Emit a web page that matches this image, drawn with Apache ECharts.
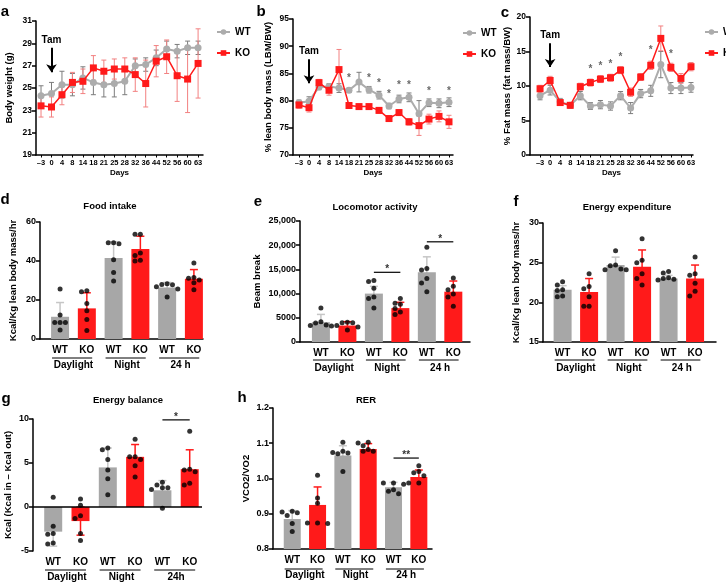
<!DOCTYPE html>
<html>
<head>
<meta charset="utf-8">
<title>Body composition and metabolic cage data</title>
<script src="https://cdn.jsdelivr.net/npm/echarts@6/dist/echarts.min.js"></script>
<style>
    html, body { margin: 0; padding: 0; background: #fff; }
    .panel { position: absolute; left: 0; top: 0; width: 726px; height: 583px; }
</style>
</head>
<body>
<div id="pa" class="panel"></div>
<div id="pb" class="panel"></div>
<div id="pc" class="panel"></div>
<div id="pd" class="panel"></div>
<div id="pe" class="panel"></div>
<div id="pf" class="panel"></div>
<div id="pg" class="panel"></div>
<div id="ph" class="panel"></div>
<script>
(function () {
    'use strict';

    // ---- data: time course (a, b, c) ----
    var days = ['–3', '0', '4', '8', '14', '18', '21', '25', '28', '32', '36', '44', '52', '56', '60', '63'];
    var tamDay = '0';

    var weightWT = [24.3, 24.5, 25.3, 25.3, 25.9, 25.5, 25.3, 25.4, 25.6, 27.0, 27.1, 27.7, 28.5, 28.3, 28.6, 28.6];
    var weightWTsd = [0.9, 1.0, 1.2, 1.0, 1.0, 1.1, 1.1, 1.2, 1.2, 0.6, 0.6, 0.7, 0.7, 0.6, 0.6, 0.6];
    var weightKO = [23.4, 23.3, 24.4, 25.5, 25.6, 26.8, 26.5, 26.7, 26.7, 26.2, 25.4, 27.4, 27.8, 26.1, 25.8, 27.2];
    var weightKOsd = [1.0, 0.9, 0.9, 0.9, 1.1, 1.1, 1.0, 0.9, 1.0, 1.5, 2.1, 1.4, 1.5, 2.3, 3.0, 3.1];
    var weightTam = [28.6, 26.4];

    var leanWT = [79.6, 79.9, 82.5, 82.6, 82.3, 81.9, 83.4, 82.0, 81.0, 79.0, 80.3, 80.6, 77.6, 79.6, 79.5, 79.7];
    var leanWTsd = [0.5, 0.8, 0.5, 0.5, 0.8, 0.4, 1.8, 0.6, 0.7, 0.5, 0.7, 0.8, 2.4, 0.7, 0.8, 0.8];
    var leanKO = [79.2, 78.7, 83.3, 81.9, 85.7, 79.1, 78.9, 78.9, 78.2, 76.7, 77.8, 76.1, 75.4, 76.6, 77.1, 76.1];
    var leanKOsd = [0.6, 0.8, 0.6, 0.9, 3.7, 0.5, 0.4, 0.4, 0.5, 0.5, 0.5, 0.6, 1.8, 0.9, 1.0, 1.2];
    var leanStarDays = ['18', '25', '28', '32', '36', '44', '56', '63'];
    var leanStarY = [84.4, 84.4, 83.6, 81.5, 83.2, 83.2, 82.1, 82.1];
    var leanTam = [87.6, 83.2];

    var fatWT = [8.6, 9.4, 7.7, 7.2, 8.6, 7.1, 7.3, 7.1, 8.6, 6.8, 8.9, 9.3, 13.1, 9.7, 9.7, 9.8];
    var fatWTsd = [0.6, 0.7, 0.5, 0.4, 0.6, 0.5, 0.6, 0.6, 0.6, 0.8, 0.6, 0.8, 1.9, 0.8, 0.8, 0.7];
    var fatKO = [9.6, 10.8, 7.6, 7.2, 9.9, 10.5, 11.0, 11.2, 12.3, 9.1, 11.3, 13.0, 16.9, 12.7, 11.1, 12.8];
    var fatKOsd = [0.5, 0.6, 0.4, 0.3, 0.5, 0.5, 0.5, 0.5, 0.5, 0.6, 0.5, 0.6, 1.8, 0.6, 0.7, 0.6];
    var fatStarDays = ['18', '21', '25', '28', '44', '56'];
    var fatStarY = [12.7, 13.2, 13.5, 14.4, 15.4, 14.9];
    var fatTam = [16.2, 12.75];

    // ---- data: metabolic cages (d - h) ----
    var barLabels = ['WT', 'KO', 'WT', 'KO', 'WT', 'KO'];
    var periodLabels = ['Daylight', 'Night', '24 h'];
    var balancePeriodLabels = ['Daylight', 'Night', '24h'];

    var foodMean = [11.4, 15.7, 41.6, 46.2, 26.4, 30.9];
    var foodSd = [7.3, 8.0, 8.3, 6.5, 2.6, 4.7];
    var foodDots = [
        [25.6, 12.3, 8.5, 8.5, 8.5, 4.6],
        [24.7, 24.2, 18.2, 14.5, 10.0, 4.3],
        [49.3, 48.9, 49.4, 40.7, 34.1, 29.8],
        [53.7, 53.7, 44.1, 42.8, 40.4, 40.0],
        [28.3, 28.0, 27.8, 26.8, 25.7, 21.5],
        [39.0, 31.5, 31.2, 30.2, 28.8, 25.2]
    ];

    var locoMean = [4100, 3400, 10000, 7000, 14400, 10400];
    var locoSd = [1600, 800, 1500, 1200, 3200, 2200];
    var locoDots = [
        [7000, 4200, 3900, 3500, 3400, 3300],
        [4000, 4100, 4000, 3400, 3100, 2500],
        [12700, 12500, 11100, 9300, 9000, 7000],
        [9000, 8000, 7800, 6900, 6200, 5700],
        [19600, 15200, 14900, 13100, 12200, 10400],
        [13200, 11500, 10800, 9900, 9300, 7400]
    ];
    var locoSig = [[2, 3, 14400], [4, 5, 20700]];
    var locoSigText = ['*', '*'];

    var eeMean = [21.6, 21.3, 24.7, 24.5, 23.0, 23.0];
    var eeSd = [0.5, 1.7, 1.0, 2.1, 0.4, 1.7];
    var eeDots = [
        [22.6, 22.2, 21.6, 21.5, 20.8, 20.7],
        [23.6, 22.0, 21.7, 20.7, 19.5, 19.5],
        [26.5, 24.7, 24.2, 24.1, 24.1, 24.6],
        [28.0, 25.3, 25.0, 23.0, 22.2, 23.6],
        [23.9, 23.7, 23.1, 22.9, 22.8, 23.0],
        [25.7, 23.6, 23.4, 22.4, 21.4, 20.8]
    ];

    var balanceMean = [-2.8, -1.6, 4.5, 5.7, 1.9, 4.3];
    var balanceSd = [1.65, 1.6, 2.2, 1.4, 1.1, 2.2];
    var balanceDots = [
        [1.1, -2.2, -3.0, -3.1, -4.1, -4.2],
        [0.9, 0.2, -1.0, -1.3, -3.0, -3.8],
        [6.7, 6.5, 5.4, 4.2, 3.2, 1.4],
        [7.7, 5.7, 5.7, 5.4, 4.7, 3.4],
        [2.8, 2.5, 2.2, 2.2, 2.0, -0.15],
        [8.6, 4.3, 4.2, 4.0, 2.5, 2.7]
    ];
    var balanceSig = [[4, 5, 9.9]];
    var balanceSigText = ['*'];

    var rerMean = [0.885, 0.925, 1.065, 1.084, 0.975, 1.004];
    var rerSd = [0.024, 0.051, 0.028, 0.015, 0.014, 0.020];
    var rerDots = [
        [0.907, 0.905, 0.903, 0.895, 0.872, 0.850],
        [1.009, 0.945, 0.930, 0.874, 0.874, 0.872],
        [1.103, 1.077, 1.074, 1.072, 1.070, 1.020],
        [1.103, 1.101, 1.093, 1.082, 1.077, 1.077],
        [0.987, 0.987, 0.984, 0.968, 0.964, 0.957],
        [1.036, 1.020, 1.016, 1.008, 0.987, 0.987]
    ];
    var rerSig = [[4, 5, 1.058]];
    var rerSigText = ['**'];

    // ---- styles ----
    var FONT = '"Liberation Sans", Arial, Helvetica, sans-serif';
    var BAR_GRAY = '#a7a7a7';
    var BAR_RED = '#ff1a1a';
    var LINE_GRAY = '#acacac';
    var ERR_GRAY = '#7c7c7c';
    var ERR_RED = '#f28080';
    var ERR_BAR_GRAY = '#c6c6c6';

    var textEl = function (text, x, y, size) {
        return {
            type: 'text',
            x: x,
            y: y,
            style: {
                text: text,
                fontFamily: FONT,
                fontSize: size,
                fontWeight: 'bold',
                fill: '#000',
                align: 'center',
                verticalAlign: 'middle'
            }
        };
    };

    var errorBar = function (colors, cap, width) {
        return function (params, api) {
            var x = api.value(0);
            var m = api.value(1);
            var s = api.value(2);
            var hi = api.coord([x, m + s]);
            var lo = api.coord([x, m - s]);
            var c = typeof colors === 'string' ? colors : colors[params.dataIndex];
            var st = { stroke: c, lineWidth: width };
            return {
                type: 'group',
                children: [
                    { type: 'line', shape: { x1: hi[0], y1: hi[1], x2: lo[0], y2: lo[1] }, style: st },
                    { type: 'line', shape: { x1: hi[0] - cap, y1: hi[1], x2: hi[0] + cap, y2: hi[1] }, style: st },
                    { type: 'line', shape: { x1: lo[0] - cap, y1: lo[1], x2: lo[0] + cap, y2: lo[1] }, style: st }
                ]
            };
        };
    };

    var yAxisBase = function (cfg) {
        return {
            type: 'value',
            min: cfg.yMin,
            max: cfg.yMax,
            interval: cfg.yInterval,
            name: cfg.yName,
            nameLocation: 'middle',
            nameGap: cfg.yNameGap,
            nameTextStyle: { fontSize: 9.5, fontWeight: 'bold', color: '#000', fontFamily: FONT },
            axisLine: { show: true, onZero: false, lineStyle: { color: '#000', width: 1.5 } },
            axisTick: { show: true, length: 4, lineStyle: { color: '#000', width: 1.5 } },
            axisLabel: {
                fontSize: cfg.yLabelSize || 9,
                fontWeight: 'bold',
                color: '#000',
                margin: 4,
                formatter: cfg.yFormatter
            },
            splitLine: { show: false }
        };
    };

    var lineOption = function (cfg) {
        var idx = days.map(function (d, i) { return i; });
        var tamIndex = days.indexOf(tamDay);
        var pairs = function (arr) { return arr.map(function (v, i) { return [i, v]; }); };
        var errs = function (m, s) { return m.map(function (v, i) { return [i, v, s[i]]; }); };
        var stars = (cfg.starDays || []).map(function (d, k) { return [days.indexOf(d), cfg.starY[k]]; });

        return {
            animation: false,
            textStyle: { fontFamily: FONT },
            graphic: [textEl(cfg.letter, cfg.letterPos[0], cfg.letterPos[1], 15)],
            grid: { left: cfg.grid[0], top: cfg.grid[1], width: cfg.grid[2], height: cfg.grid[3] },
            legend: {
                left: cfg.legend[0],
                top: cfg.legend[1],
                orient: 'vertical',
                itemGap: 11,
                itemWidth: 13,
                itemHeight: 7,
                textStyle: { fontSize: 10, fontWeight: 'bold', color: '#000', fontFamily: FONT },
                data: ['WT', 'KO']
            },
            xAxis: {
                type: 'value',
                min: cfg.xMin,
                max: cfg.xMax,
                name: 'Days',
                nameLocation: 'middle',
                nameGap: 14,
                nameTextStyle: { fontSize: 8, fontWeight: 'bold', color: '#000', fontFamily: FONT },
                axisLine: { onZero: false, lineStyle: { color: '#000', width: 1.5 } },
                axisTick: { show: true, customValues: idx, length: 2.5, lineStyle: { color: '#000', width: 1 } },
                axisLabel: {
                    customValues: idx,
                    fontSize: 7.5,
                    fontWeight: 'bold',
                    color: '#000',
                    margin: 4,
                    formatter: function (v) { return days[Math.round(v)]; }
                },
                splitLine: { show: false }
            },
            yAxis: yAxisBase(cfg),
            series: [
                {
                    type: 'custom',
                    name: 'WT sd',
                    renderItem: errorBar(ERR_GRAY, 2.5, 1),
                    encode: { x: 0, y: 1 },
                    data: errs(cfg.wt, cfg.wtSd),
                    z: 1
                },
                {
                    type: 'custom',
                    name: 'KO sd',
                    renderItem: errorBar(ERR_RED, 2.5, 1),
                    encode: { x: 0, y: 1 },
                    data: errs(cfg.ko, cfg.koSd),
                    z: 2
                },
                {
                    type: 'line',
                    name: 'WT',
                    data: pairs(cfg.wt),
                    symbol: 'circle',
                    symbolSize: 7,
                    itemStyle: { color: LINE_GRAY },
                    lineStyle: { color: LINE_GRAY, width: 2 },
                    z: 3
                },
                {
                    type: 'line',
                    name: 'KO',
                    data: pairs(cfg.ko),
                    symbol: 'rect',
                    symbolSize: 7,
                    itemStyle: { color: BAR_RED },
                    lineStyle: { color: BAR_RED, width: 1.5 },
                    z: 4,
                    markLine: {
                        silent: true,
                        symbol: ['none', 'arrow'],
                        symbolSize: 8,
                        lineStyle: { color: '#000', width: 2, type: 'solid' },
                        label: {
                            show: true,
                            position: 'start',
                            formatter: 'Tam',
                            fontSize: 10,
                            fontWeight: 'bold',
                            color: '#000',
                            distance: 3
                        },
                        data: [[{ coord: [tamIndex, cfg.tam[0]] }, { coord: [tamIndex, cfg.tam[1]] }]]
                    }
                },
                {
                    type: 'scatter',
                    name: 'stars',
                    data: stars,
                    symbolSize: 1,
                    itemStyle: { color: 'rgba(0,0,0,0)' },
                    label: {
                        show: true,
                        position: 'inside',
                        formatter: '*',
                        fontSize: 10,
                        fontWeight: 'bold',
                        color: '#444',
                        offset: [0, 2]
                    },
                    z: 5
                }
            ]
        };
    };

    // spread dots of one group sideways so they do not overlap
    var swarm = function (values, pxY, pxX) {
        var order = values.map(function (v, i) { return i; }).sort(function (p, q) {
            return values[q] - values[p];
        });
        var steps = [0, -0.2, 0.2, -0.4, 0.4];
        var placed = [];
        var out = [];
        order.forEach(function (i) {
            for (var k = 0; k < steps.length; k++) {
                var free = placed.every(function (p) {
                    var dx = (steps[k] - p.o) * pxX;
                    var dy = (values[i] - p.v) * pxY;
                    return dx * dx + dy * dy >= 27;
                });
                if (free || k === steps.length - 1) {
                    out[i] = steps[k];
                    placed.push({ o: steps[k], v: values[i] });
                    break;
                }
            }
        });
        return out;
    };

    var barOption = function (cfg) {
        var pxX = cfg.grid[2] / (cfg.xMax - cfg.xMin);
        var pxY = cfg.grid[3] / (cfg.yMax - cfg.yMin);
        var colors = cfg.mean.map(function (v, i) { return i % 2 ? BAR_RED : BAR_GRAY; });
        var errColors = cfg.mean.map(function (v, i) { return i % 2 ? BAR_RED : ERR_BAR_GRAY; });
        var dotData = [];
        cfg.dots.forEach(function (vals, i) {
            var offs = swarm(vals, pxY, pxX);
            vals.forEach(function (v, k) { dotData.push([i + offs[k], v]); });
        });
        var groupPairs = cfg.groups.map(function (g, k) { return [2 * k, 2 * k + 1]; });
        var groupCenters = cfg.groups.map(function (g, k) { return 2 * k + 0.5; });

        var series = [
            {
                type: 'custom',
                name: 'sd',
                renderItem: errorBar(errColors, 4, 1.5),
                encode: { x: 0, y: 1 },
                data: cfg.mean.map(function (v, i) { return [i, v, cfg.sd[i]]; }),
                z: 1
            },
            {
                type: 'bar',
                name: 'mean',
                xAxisIndex: 0,
                barWidth: cfg.barWidth,
                data: cfg.mean.map(function (v, i) {
                    return { value: [i, v], itemStyle: { color: colors[i] } };
                }),
                z: 2
            },
            {
                type: 'scatter',
                name: 'animals',
                data: dotData,
                symbolSize: 5,
                itemStyle: { color: '#000' },
                z: 4
            },
            {
                type: 'custom',
                name: 'groups',
                renderItem: function (params, api) {
                    var a = api.coord([api.value(0) - 0.3, cfg.yMin]);
                    var b = api.coord([api.value(1) + 0.2, cfg.yMin]);
                    var y = a[1] + cfg.groupLineGap;
                    return {
                        type: 'line',
                        shape: { x1: a[0], y1: y, x2: b[0], y2: y },
                        style: { stroke: '#000', lineWidth: 1 }
                    };
                },
                encode: { x: [0, 1] },
                data: groupPairs,
                z: 5
            }
        ];

        if (cfg.sig) {
            series.push({
                type: 'custom',
                name: 'significance',
                renderItem: function (params, api) {
                    var a = api.coord([api.value(0), api.value(2)]);
                    var b = api.coord([api.value(1), api.value(2)]);
                    return {
                        type: 'group',
                        children: [
                            {
                                type: 'line',
                                shape: { x1: a[0], y1: a[1], x2: b[0], y2: b[1] },
                                style: { stroke: '#000', lineWidth: 1.2 }
                            },
                            {
                                type: 'text',
                                x: (a[0] + b[0]) / 2,
                                y: a[1] - 3,
                                style: {
                                    text: cfg.sigText[params.dataIndex],
                                    fontFamily: FONT,
                                    fontSize: 10,
                                    fontWeight: 'bold',
                                    fill: '#333',
                                    align: 'center',
                                    verticalAlign: 'middle'
                                }
                            }
                        ]
                    };
                },
                encode: { x: [0, 1], y: 2 },
                data: cfg.sig,
                z: 6
            });
        }

        if (cfg.zeroLine) {
            series[1].markLine = {
                silent: true,
                symbol: ['none', 'none'],
                lineStyle: { color: '#000', width: 1.5, type: 'solid' },
                label: { show: false },
                data: [{ yAxis: 0 }]
            };
        }

        return {
            animation: false,
            textStyle: { fontFamily: FONT },
            graphic: [
                textEl(cfg.letter, cfg.letterPos[0], cfg.letterPos[1], 15),
                textEl(cfg.title, cfg.titlePos[0], cfg.titlePos[1], 9.5)
            ],
            grid: { left: cfg.grid[0], top: cfg.grid[1], width: cfg.grid[2], height: cfg.grid[3] },
            xAxis: [
                {
                    type: 'value',
                    min: cfg.xMin,
                    max: cfg.xMax,
                    position: 'bottom',
                    axisLine: { show: !cfg.zeroLine, onZero: false, lineStyle: { color: '#000', width: 1.5 } },
                    axisTick: { show: false },
                    axisLabel: {
                        customValues: [0, 1, 2, 3, 4, 5],
                        margin: 6,
                        fontSize: 10,
                        fontWeight: 'bold',
                        color: '#000',
                        formatter: function (v) { return barLabels[Math.round(v)]; }
                    },
                    splitLine: { show: false }
                },
                {
                    type: 'value',
                    min: cfg.xMin,
                    max: cfg.xMax,
                    position: 'bottom',
                    offset: 15,
                    axisLine: { show: false, onZero: false },
                    axisTick: { show: false },
                    axisLabel: {
                        customValues: groupCenters,
                        margin: 6,
                        fontSize: 10,
                        fontWeight: 'bold',
                        color: '#000',
                        formatter: function (v) { return cfg.groups[Math.round((v - 0.5) / 2)]; }
                    },
                    splitLine: { show: false }
                }
            ],
            yAxis: yAxisBase(cfg),
            series: series
        };
    };

    var thousands = function (v) {
        return v >= 10000 ? String(v).replace(/\B(?=(\d{3})+(?!\d))/g, ',') : String(v);
    };

    var panels = [
        ['pa', lineOption({
            letter: 'a', letterPos: [5, 12],
            grid: [36, 21, 167, 134], xMin: -0.48, xMax: 15.47,
            yMin: 19, yMax: 31, yInterval: 2, yName: 'Body weight (g)', yNameGap: 22, yLabelSize: 8.5,
            legend: [211, 22], tam: weightTam,
            wt: weightWT, wtSd: weightWTsd, ko: weightKO, koSd: weightKOsd
        })],
        ['pb', lineOption({
            letter: 'b', letterPos: [261, 12],
            grid: [293, 19, 160, 136], xMin: -0.6, xMax: 15.4,
            yMin: 70, yMax: 95, yInterval: 5, yName: '% lean body mass (LBM/BW)', yNameGap: 20, yLabelSize: 8.5,
            legend: [457, 23], tam: leanTam,
            wt: leanWT, wtSd: leanWTsd, ko: leanKO, koSd: leanKOsd,
            starDays: leanStarDays, starY: leanStarY
        })],
        ['pc', lineOption({
            letter: 'c', letterPos: [505, 13],
            grid: [530, 17, 163, 138], xMin: -1.0, xMax: 15.2,
            yMin: 0, yMax: 20, yInterval: 5, yName: '% Fat mass (fat mass/BW)', yNameGap: 18, yLabelSize: 8.5,
            legend: [699, 22], tam: fatTam,
            wt: fatWT, wtSd: fatWTsd, ko: fatKO, koSd: fatKOsd,
            starDays: fatStarDays, starY: fatStarY
        })],
        ['pd', barOption({
            letter: 'd', letterPos: [5, 200], title: 'Food intake', titlePos: [110, 206],
            grid: [40, 222, 163, 117], xMin: -0.75, xMax: 5.34, barWidth: 18,
            yMin: 0, yMax: 60, yInterval: 20, yName: 'Kcal/Kg lean body mass/hr', yNameGap: 22,
            groupLineGap: 19, groups: periodLabels,
            mean: foodMean, sd: foodSd, dots: foodDots
        })],
        ['pe', barOption({
            letter: 'e', letterPos: [258, 202], title: 'Locomotor activity', titlePos: [375, 207],
            grid: [300, 221, 170, 121], xMin: -0.79, xMax: 5.63, barWidth: 18,
            yMin: 0, yMax: 25000, yInterval: 5000, yName: 'Beam break', yNameGap: 38,
            yFormatter: thousands,
            groupLineGap: 18, groups: periodLabels,
            mean: locoMean, sd: locoSd, dots: locoDots, sig: locoSig, sigText: locoSigText
        })],
        ['pf', barOption({
            letter: 'f', letterPos: [516, 202], title: 'Energy expenditure', titlePos: [627, 207],
            grid: [543, 223, 173, 119], xMin: -0.74, xMax: 5.79, barWidth: 18,
            yMin: 15, yMax: 30, yInterval: 5, yName: 'Kcal/Kg lean body mass/hr', yNameGap: 22,
            groupLineGap: 18, groups: periodLabels,
            mean: eeMean, sd: eeSd, dots: eeDots
        })],
        ['pg', barOption({
            letter: 'g', letterPos: [6, 399], title: 'Energy balance', titlePos: [128, 400],
            grid: [33, 419, 169, 132], xMin: -0.74, xMax: 5.45, barWidth: 18,
            yMin: -5, yMax: 10, yInterval: 5, yName: 'Kcal (Kcal in – Kcal out)', yNameGap: 20,
            groupLineGap: 19, groups: balancePeriodLabels, zeroLine: true,
            mean: balanceMean, sd: balanceSd, dots: balanceDots, sig: balanceSig, sigText: balanceSigText
        })],
        ['ph', barOption({
            letter: 'h', letterPos: [242, 398], title: 'RER', titlePos: [366, 400],
            grid: [273, 408, 159, 141], xMin: -0.76, xMax: 5.52, barWidth: 17,
            yMin: 0.8, yMax: 1.2, yInterval: 0.1, yName: 'VCO2/VO2', yNameGap: 22,
            yFormatter: function (v) { return v.toFixed(1); },
            groupLineGap: 20, groups: periodLabels,
            mean: rerMean, sd: rerSd, dots: rerDots, sig: rerSig, sigText: rerSigText
        })]
    ];

    panels.forEach(function (p) {
        var chart = echarts.init(document.getElementById(p[0]), null, { renderer: 'canvas' });
        chart.setOption(p[1]);
    });
}());
</script>
</body>
</html>
